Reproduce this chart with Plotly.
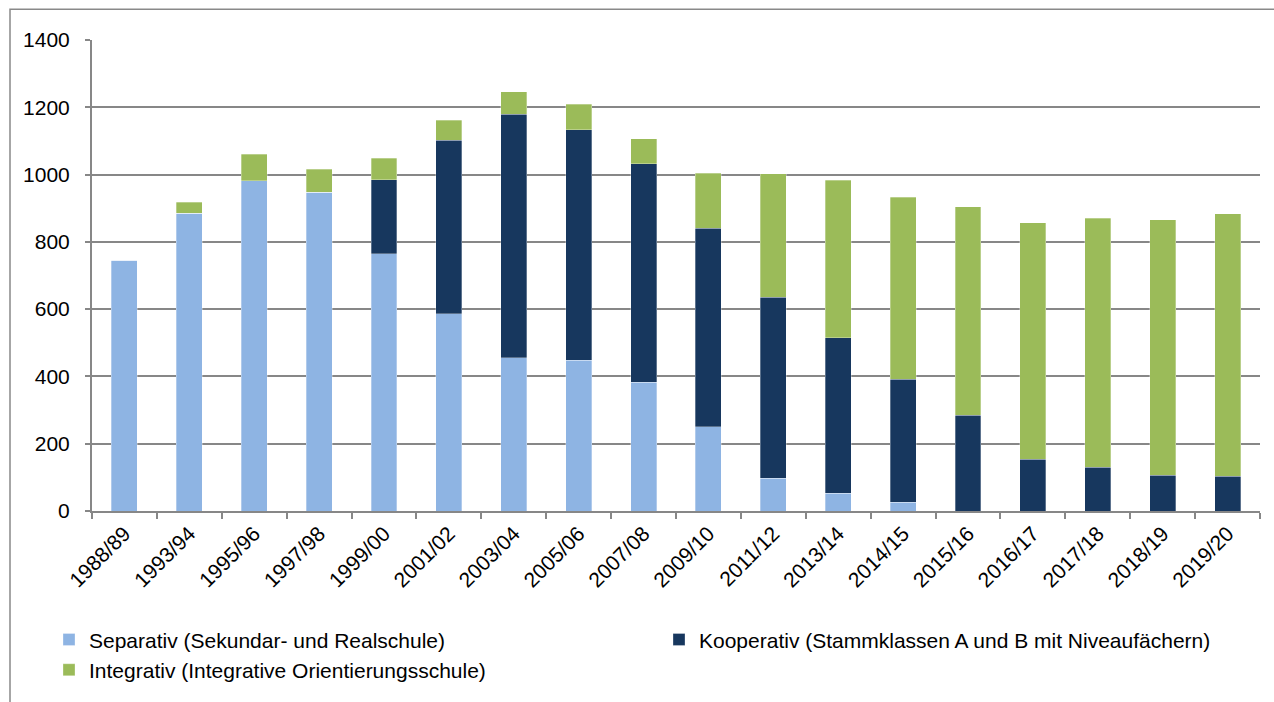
import plotly.graph_objects as go

years = ["1988/89", "1993/94", "1995/96", "1997/98", "1999/00", "2001/02", "2003/04",
         "2005/06", "2007/08", "2009/10", "2011/12", "2013/14", "2014/15", "2015/16",
         "2016/17", "2017/18", "2018/19", "2019/20"]
separativ = [745, 885, 981, 947, 764, 586, 456, 448, 383, 250, 97, 53, 26, 0, 0, 0, 0, 0]
kooperativ = [0, 0, 0, 0, 220, 516, 723, 685, 649, 590, 538, 462, 366, 285, 154, 130, 106, 104]
integrativ = [0, 33, 79, 69, 64, 59, 67, 76, 75, 164, 368, 468, 541, 619, 703, 740, 759, 780]

names = ["Separativ (Sekundar- und Realschule)",
         "Kooperativ (Stammklassen A und B mit Niveaufächern)",
         "Integrativ (Integrative Orientierungsschule)"]
colors = ["#8EB4E3", "#17375E", "#9BBB59"]
y_ticks = [0, 200, 400, 600, 800, 1000, 1200, 1400]

FONT = "Liberation Sans, Arial, sans-serif"
FS = 21
W, H = 1274, 702
L, R, T, B = 92, 14, 40, 188
pw, ph = W - L - R, H - T - B

def px_x(p):
    return (p - L) / pw

def px_y(p):
    return (H - B - p) / ph

fig = go.Figure()
series = [separativ, kooperativ, integrativ]
legends = ["legend", "legend2", "legend"]
for vals, name, col, lg, grp in zip(series, names, colors, legends, ["a", "b", "c"]):
    fig.add_trace(go.Bar(
        x=years, y=vals, name=name,
        marker=dict(color=col, line=dict(color="rgba(255,255,255,0.5)", width=0.6)),
        legend=lg, legendgroup=grp,
    ))

fig.update_layout(
    width=W, height=H,
    barmode="stack", bargap=0.6,
    paper_bgcolor="white", plot_bgcolor="white",
    margin=dict(l=L, r=R, t=T, b=B, pad=0),
    font=dict(family=FONT, size=FS, color="#000000"),
    xaxis=dict(
        type="category", tickangle=-45, tickson="boundaries",
        ticks="outside", ticklen=6, tickcolor="#878787", tickwidth=1.5,
        showline=True, linecolor="#878787", linewidth=2,
        showgrid=False, tickfont=dict(size=FS),
    ),
    yaxis=dict(
        range=[0, 1400], tickvals=y_ticks,
        ticks="outside", ticklen=5, tickcolor="#878787", tickwidth=1.5,
        showline=True, linecolor="#878787", linewidth=2,
        showgrid=True, gridcolor="#878787", gridwidth=1.6,
        zeroline=False, ticklabelstandoff=11, tickfont=dict(size=FS),
    ),
    legend=dict(
        orientation="v", x=px_x(49), xanchor="left", y=px_y(623), yanchor="top",
        traceorder="normal", tracegroupgap=6, font=dict(size=FS),
        bgcolor="rgba(0,0,0,0)",
    ),
    legend2=dict(
        orientation="v", x=px_x(659), xanchor="left", y=px_y(623), yanchor="top",
        font=dict(size=FS), bgcolor="rgba(0,0,0,0)",
    ),
    shapes=[dict(
        type="rect", xref="paper", yref="paper",
        x0=px_x(10), x1=px_x(1300), y0=px_y(730), y1=px_y(9),
        line=dict(color="#898989", width=1.5), fillcolor="rgba(0,0,0,0)", layer="below",
    )],
)

fig.write_html(
    "out.html",
    config={"displayModeBar": False},
    post_script="document.body.style.margin='0px';document.body.style.padding='0px';document.body.style.overflow='hidden';",
)
